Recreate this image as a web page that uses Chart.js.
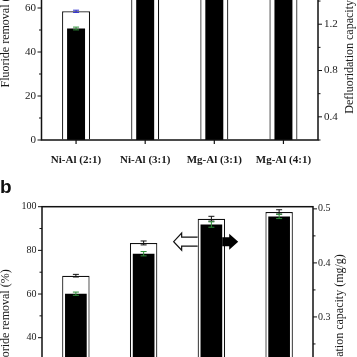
<!DOCTYPE html>
<html><head><meta charset="utf-8">
<script src="https://cdn.jsdelivr.net/npm/chart.js@4.4.1/dist/chart.umd.min.js"></script>
<style>
html,body{margin:0;padding:0;background:#fff;}
#wrap{position:relative;width:357px;height:357px;overflow:hidden;background:#fff;}
#ca{position:absolute;left:0;top:-100px;}
#cb{position:absolute;left:0;top:186px;}
#lb{position:absolute;left:0;top:176px;font:bold 19px "Liberation Sans",Arial,sans-serif;color:#111;}
</style></head><body>
<div id="wrap">
<canvas id="ca" width="357" height="290"></canvas>
<canvas id="cb" width="357" height="300"></canvas>
<div id="lb">b</div>
</div>
<script>
// ---- Panel a data ----
const catsA = ['Ni-Al (2:1)', 'Ni-Al (3:1)', 'Mg-Al (3:1)', 'Mg-Al (4:1)'];
const removalA = [58.5, 88, 92, 96];
const removalErrA = [0.5, 1.0, 1.0, 1.0];
const capacityA = [1.163, 1.72, 1.80, 1.88];
const capacityErrA = [0.012, 0.02, 0.02, 0.02];
const leftTicksA = {min: 0, max: 100, step: 10, label: 20};
const rightTicksA = {min: 0.2, max: 2.1, step: 0.2, label: 0.4};

// ---- Panel b data ----
const catsB = ['1', '2', '3', '4'];
const removalB = [68.4, 83.4, 94.5, 97.6];
const removalErrB = [0.6, 0.9, 1.1, 1.0];
const capacityB = [0.343, 0.417, 0.471, 0.486];
const capacityErrB = [0.003, 0.004, 0.005, 0.004];
const leftTicksB = {min: 0, max: 100, step: 10, label: 20};
const rightTicksB = {min: 0.1, max: 0.504, step: 0.05, label: 0.1};
const arrowLevelB = 84;   // left-axis value where the two arrows sit
const arrowIndexB = 2;    // category the arrows are attached to

const SERIF = '"Liberation Serif", "Times New Roman", serif';
const TXT = '#1a1a1a';

function isMult(v, s) { const r = v / s; return Math.abs(r - Math.round(r)) < 1e-6; }
function buildTicks(t) {
  return function (scale) {
    const out = [];
    for (let i = 0; ; i++) {
      const v = +(t.min + i * t.step).toFixed(6);
      if (v > t.max + 1e-9) break;
      out.push({value: v});
    }
    scale.ticks = out;
  };
}
function yAxis(pos, t, width, fmt, pad, fs) {
  return {
    type: 'linear', position: pos, min: t.min, max: t.max,
    afterBuildTicks: buildTicks(t),
    afterFit: s => { s.width = width; },
    grid: {display: true, drawOnChartArea: false, drawTicks: false},
    border: {display: false},
    ticks: {
      autoSkip: false, padding: pad, color: TXT,
      font: {family: SERIF, size: fs},
      callback: v => isMult(v, t.label) ? fmt(v) : ''
    },
    tickDefs: t
  };
}

const decoPlugin = {
  id: 'deco',
  afterDatasetsDraw(chart, args, o) {
    const ctx = chart.ctx;
    ctx.save();
    // error bars
    chart.data.datasets.forEach((ds, di) => {
      const meta = chart.getDatasetMeta(di);
      const sc = chart.scales[ds.yAxisID];
      ctx.strokeStyle = ds.errColor; ctx.lineWidth = 1;
      meta.data.forEach((el, i) => {
        const v = ds.data[i], e = ds.errors[i];
        const y1 = sc.getPixelForValue(v + e), y2 = sc.getPixelForValue(v - e);
        const x = el.x;
        ctx.beginPath();
        ctx.moveTo(x, y1); ctx.lineTo(x, y2);
        ctx.moveTo(x - 3, y1); ctx.lineTo(x + 3, y1);
        ctx.moveTo(x - 3, y2); ctx.lineTo(x + 3, y2);
        ctx.stroke();
      });
    });
    // arrows
    if (o.arrows) {
      const a = o.arrows;
      const yl = chart.scales.y.getPixelForValue(a.level);
      const wEl = chart.getDatasetMeta(0).data[a.index];
      const bEl = chart.getDatasetMeta(1).data[a.index];
      // open arrow pointing left
      const xr = wEl.x - wEl.width / 2;
      const xt = xr - 24, xh = xt + 8;
      ctx.beginPath();
      ctx.moveTo(xr, yl - 4.5); ctx.lineTo(xh, yl - 4.5); ctx.lineTo(xh, yl - 8.5);
      ctx.lineTo(xt, yl); ctx.lineTo(xh, yl + 8.5); ctx.lineTo(xh, yl + 4.5);
      ctx.lineTo(xr, yl + 4.5);
      ctx.fillStyle = '#fff'; ctx.fill();
      ctx.strokeStyle = '#111'; ctx.lineWidth = 1.2; ctx.stroke();
      // filled arrow pointing right
      const xl = bEl.x + bEl.width / 2;
      const xs = xl + 7, xe = xl + 16;
      ctx.beginPath();
      ctx.moveTo(xl, yl - 4.5); ctx.lineTo(xs, yl - 4.5); ctx.lineTo(xs, yl - 8);
      ctx.lineTo(xe, yl); ctx.lineTo(xs, yl + 8); ctx.lineTo(xs, yl + 4.5);
      ctx.lineTo(xl, yl + 4.5); ctx.closePath();
      ctx.fillStyle = '#000'; ctx.fill();
    }
    ctx.restore();
  },
  afterDraw(chart, args, o) {
    const ctx = chart.ctx, ca = chart.chartArea;
    ctx.save();
    ctx.strokeStyle = '#111'; ctx.lineWidth = 1.5;
    ctx.strokeRect(ca.left, ca.top, ca.right - ca.left, ca.bottom - ca.top);
    // y tick marks
    ['y', 'y1'].forEach(id => {
      const sc = chart.scales[id], t = sc.options.tickDefs;
      sc.ticks.forEach(tk => {
        const major = isMult(tk.value, t.label);
        const len = major ? 4 : 2.5;
        const y = sc.getPixelForValue(tk.value);
        const x0 = id === 'y' ? ca.left : ca.right;
        const dir = id === 'y' ? -1 : 1;
        ctx.beginPath(); ctx.lineWidth = 1;
        ctx.moveTo(x0, y); ctx.lineTo(x0 + dir * len, y); ctx.stroke();
      });
    });
    // x tick marks
    const xs = chart.scales.x;
    xs.ticks.forEach((tk, i) => {
      const x = xs.getPixelForTick(i);
      ctx.beginPath(); ctx.lineWidth = 1.2;
      ctx.moveTo(x, ca.bottom); ctx.lineTo(x, ca.bottom + 4); ctx.stroke();
    });
    // axis titles
    ctx.fillStyle = TXT;
    ctx.font = '12px ' + SERIF;
    ctx.textAlign = 'center'; ctx.textBaseline = 'middle';
    const cy = (ca.top + ca.bottom) / 2;
    [[o.left, o.leftX, cy + o.dyL], [o.right, o.rightX, cy + o.dyR]].forEach(([txt, x, y]) => {
      ctx.save(); ctx.translate(x, y); ctx.rotate(-Math.PI / 2);
      ctx.fillText(txt, 0, 0); ctx.restore();
    });
    ctx.restore();
  }
};

function makeChart(id, cats, rem, remErr, cap, capErr, lt, rt, cfg) {
  return new Chart(document.getElementById(id), {
    type: 'bar',
    data: {
      labels: cats,
      datasets: [
        {label: 'Fluoride removal (%)', data: rem, errors: remErr, errColor: cfg.remErrColor,
         yAxisID: 'y', backgroundColor: '#fff', borderColor: '#111', borderWidth: 1.2,
         barPercentage: cfg.wBar, categoryPercentage: 1, grouped: false, order: 2},
        {label: 'Defluoridation capacity (mg/g)', data: cap, errors: capErr, errColor: '#2f8f3a',
         yAxisID: 'y1', backgroundColor: '#000', borderWidth: 0,
         barPercentage: cfg.bBar, categoryPercentage: 1, grouped: false, order: 1}
      ]
    },
    options: {
      responsive: false, animation: false, devicePixelRatio: 1,
      layout: {padding: {top: cfg.padTop, left: 0, right: 0, bottom: 0}},
      plugins: {
        legend: {display: false}, tooltip: {enabled: false},
        deco: cfg.deco
      },
      scales: {
        x: {
          type: 'category', offset: true,
          afterFit: s => { s.height = cfg.xh; },
          grid: {display: false, drawTicks: false}, border: {display: false},
          ticks: {padding: 14, color: TXT, maxRotation: 0, autoSkip: false,
                  font: {family: SERIF, size: 11, weight: 'bold'}}
        },
        y: yAxis('left', lt, cfg.lw, v => String(v), 5.5, cfg.fs),
        y1: yAxis('right', rt, cfg.rw, v => v.toFixed(1), cfg.rpad, cfg.fs)
      }
    },
    plugins: [decoPlugin]
  });
}

makeChart('ca', catsA, removalA, removalErrA, capacityA, capacityErrA, leftTicksA, rightTicksA, {
  remErrColor: '#2a2ad0', wBar: 0.405, bBar: 0.26, padTop: 20, xh: 50, lw: 41.5, rw: 39, fs: 11, rpad: 6,
  deco: {left: 'Fluoride removal (%)', right: 'Defluoridation capacity (mg/g)', leftX: 6, rightX: 350, dyL: 5.5, dyR: 9}
});
makeChart('cb', catsB, removalB, removalErrB, capacityB, capacityErrB, leftTicksB, rightTicksB, {
  remErrColor: '#111', wBar: 0.405, bBar: 0.32, padTop: 20.7, xh: 61, lw: 42, rw: 44, fs: 10, rpad: 5,
  deco: {left: 'Fluoride removal (%)', right: 'Defluoridation capacity (mg/g)', leftX: 6, rightX: 340, dyL: 5.5, dyR: 13,
         arrows: {level: arrowLevelB, index: arrowIndexB}}
});
</script>
</body></html>
